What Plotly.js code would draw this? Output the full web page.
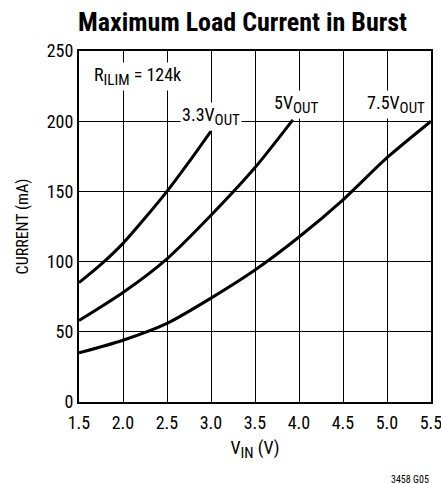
<!DOCTYPE html>
<html>
<head>
<meta charset="utf-8">
<script src="https://cdn.plot.ly/plotly-3.0.1.min.js"></script>
<style>html,body{margin:0;padding:0;background:#fff;}#chart{width:441px;height:484px;}</style>
</head>
<body>
<div id="chart"></div>
<script>
// Data
const vin33 = [1.5, 1.75, 2.0, 2.25, 2.5, 2.75, 3.0];
const cur33 = [85, 98, 113, 131, 150, 171, 193];
const vin5 = [1.5, 2.0, 2.5, 3.0, 3.5, 3.93];
const cur5 = [58, 78, 102, 133, 167, 201];
const vin75 = [1.5, 2.0, 2.5, 3.0, 3.5, 4.0, 4.5, 5.0, 5.5];
const cur75 = [35, 44, 56, 74, 94, 117.5, 144, 174, 200];
const SUB = s => '<sub><span style="font-size:15px">' + s + '</span></sub>';
const seriesNames = ['3.3V' + SUB('OUT'), '5V' + SUB('OUT'), '7.5V' + SUB('OUT')];
const xTicks = [1.5, 2.0, 2.5, 3.0, 3.5, 4.0, 4.5, 5.0, 5.5];
const yTicks = [0, 50, 100, 150, 200, 250];

const FONT = '"Liberation Sans Narrow", "Arial Narrow", "Roboto Condensed", "Liberation Sans", sans-serif';

const line = {color: '#000', width: 3, shape: 'spline', smoothing: 0.7};
const traces = [
  {x: vin33, y: cur33, mode: 'lines', line: line, name: seriesNames[0], hoverinfo: 'none'},
  {x: vin5, y: cur5, mode: 'lines', line: line, name: seriesNames[1], hoverinfo: 'none'},
  {x: vin75, y: cur75, mode: 'lines', line: line, name: seriesNames[2], hoverinfo: 'none'}
];

const annFont = {family: FONT, size: 18, color: '#000'};
const layout = {
  width: 441, height: 484,
  margin: {l: 79, r: 10, t: 51, b: 82},
  paper_bgcolor: '#fff', plot_bgcolor: '#fff',
  showlegend: false,
  font: {family: FONT, color: '#000', size: 18},
  title: {text: '<b>Maximum Load Current in Burst</b>', font: {family: FONT, size: 26, color: '#000'},
          x: 0.55, xanchor: 'center', y: 0.955, yanchor: 'middle'},
  xaxis: {
    range: [1.5, 5.5], tickvals: xTicks, ticktext: xTicks.map(v => v.toFixed(1)),
    showgrid: true, gridcolor: '#000', gridwidth: 1,
    showline: true, linecolor: '#000', linewidth: 2, mirror: true,
    ticks: '', zeroline: false, tickfont: {family: FONT, size: 18},
    ticklabeloverflow: 'allow', ticklabelstandoff: 3,
    title: {text: 'V' + SUB('IN') + ' (V)', font: {family: FONT, size: 18}, standoff: 10}
  },
  yaxis: {
    range: [0, 250], tickvals: yTicks,
    showgrid: true, gridcolor: '#000', gridwidth: 1,
    showline: true, linecolor: '#000', linewidth: 2, mirror: true,
    ticks: '', zeroline: false, tickfont: {family: FONT, size: 18},
    title: {text: 'CURRENT (mA)', font: {family: FONT, size: 16}, standoff: 14}
  },
  annotations: [
    {x: 1.65, y: 232, xref: 'x', yref: 'y', text: 'R' + SUB('ILIM') + ' = 124k', showarrow: false,
     xanchor: 'left', font: annFont, bgcolor: '#fff'},
    {x: 3.0, y: 203, xref: 'x', yref: 'y', text: seriesNames[0], showarrow: false,
     xanchor: 'center', font: annFont, bgcolor: '#fff'},
    {x: 3.97, y: 212, xref: 'x', yref: 'y', text: seriesNames[1], showarrow: false,
     xanchor: 'center', font: annFont, bgcolor: '#fff'},
    {x: 5.1, y: 212, xref: 'x', yref: 'y', text: seriesNames[2], showarrow: false,
     xanchor: 'center', font: annFont, bgcolor: '#fff'},
    {x: 1, y: -0.222, xref: 'paper', yref: 'paper', text: '3458 G05', showarrow: false,
     xanchor: 'right', yanchor: 'middle', font: {family: FONT, size: 10, color: '#000'}}
  ]
};

Plotly.newPlot('chart', traces, layout, {staticPlot: true, displayModeBar: false});
</script>
</body>
</html>
